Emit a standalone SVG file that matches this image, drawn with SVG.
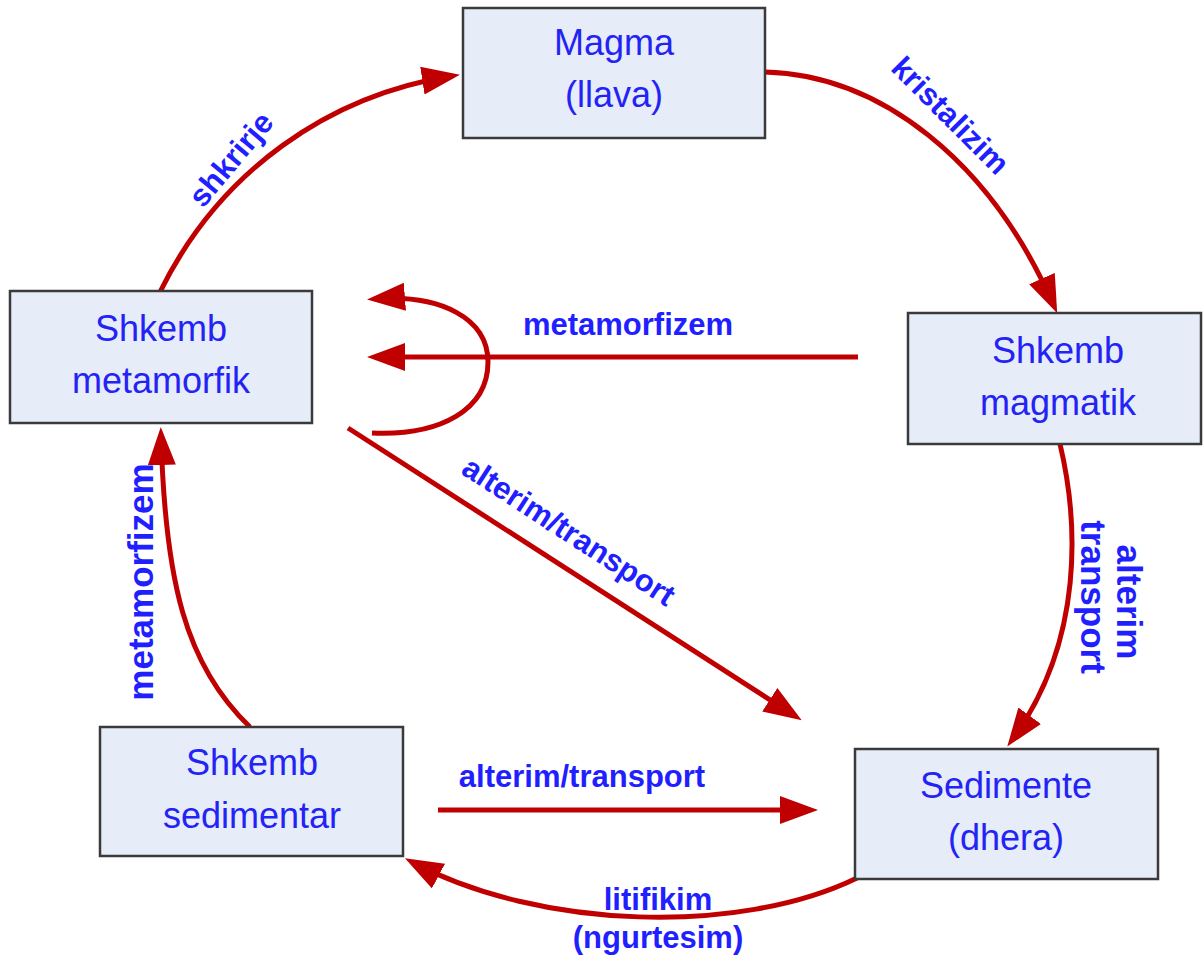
<svg xmlns="http://www.w3.org/2000/svg" width="1204" height="961" viewBox="0 0 1204 961">
<defs>
<style>
.box{fill:#E6ECF8;stroke:#3a3a3a;stroke-width:2.5}
.bt{font-family:"Liberation Sans",Arial,sans-serif;font-size:36px;fill:#2323F5;text-anchor:middle}
.lb{font-family:"Liberation Sans",Arial,sans-serif;font-size:31px;font-weight:bold;fill:#1F1FFF;text-anchor:middle}
.lv{font-size:35px}
.c{fill:none;stroke:#C00000;stroke-width:5;marker-end:url(#ah)}
</style>
<marker id="ah" markerUnits="userSpaceOnUse" markerWidth="40" markerHeight="30" refX="30" refY="14" orient="auto" viewBox="0 0 40 30">
<path d="M0,0 L38,14 L0,28 z" fill="#C00000"/>
</marker>
</defs>
<rect width="1204" height="961" fill="#ffffff"/>
<g id="connectors">
<path class="c" d="M160,292 C220,170 330,95 452,76"/>
<path class="c" d="M765,72 C880,75 990,160 1054,306"/>
<path class="c" d="M858,357 L375,357"/>
<path class="c" d="M372,433 C440,436 488,410 488,362 C488,318 440,294 375,299"/>
<path class="c" d="M348,428 L795,716"/>
<path class="c" d="M1060,444 C1078,520 1085,640 1012,740"/>
<path class="c" d="M438,810 L810,810"/>
<path class="c" d="M857,878 C740,935 540,930 412,862"/>
<path class="c" d="M250,727 C185,665 165,580 161,435"/>
</g>
<g id="labels">
<text class="lb" transform="translate(239,166) rotate(-50)">shkrirje</text>
<text class="lb" transform="translate(943,123) rotate(45)">kristalizim</text>
<text class="lb" x="628" y="335">metamorfizem</text>
<text class="lb" transform="translate(563,540) rotate(33)">alterim/transport</text>
<text class="lb lv" transform="translate(1117,602) rotate(90)">alterim</text>
<text class="lb lv" transform="translate(1081,597) rotate(90)">transport</text>
<text class="lb" x="582" y="787">alterim/transport</text>
<text class="lb" x="658" y="910">litifikim</text>
<text class="lb" x="658" y="948">(ngurtesim)</text>
<text class="lb lv" transform="translate(153,582) rotate(-90)">metamorfizem</text>
</g>
<g id="magma">
<rect class="box" x="463" y="8" width="302" height="130"/>
<text class="bt" x="614" y="55">Magma</text>
<text class="bt" x="614" y="107">(llava)</text>
</g>
<g id="metamorfik">
<rect class="box" x="10" y="291" width="302" height="132"/>
<text class="bt" x="161" y="341">Shkemb</text>
<text class="bt" x="161" y="393">metamorfik</text>
</g>
<g id="magmatik">
<rect class="box" x="908" y="313" width="293" height="131"/>
<text class="bt" x="1058" y="363">Shkemb</text>
<text class="bt" x="1058" y="415">magmatik</text>
</g>
<g id="sedimentar">
<rect class="box" x="100" y="727" width="303" height="129"/>
<text class="bt" x="252" y="775">Shkemb</text>
<text class="bt" x="252" y="828">sedimentar</text>
</g>
<g id="sedimente">
<rect class="box" x="855" y="749" width="303" height="130"/>
<text class="bt" x="1006" y="798">Sedimente</text>
<text class="bt" x="1006" y="850">(dhera)</text>
</g>
</svg>
